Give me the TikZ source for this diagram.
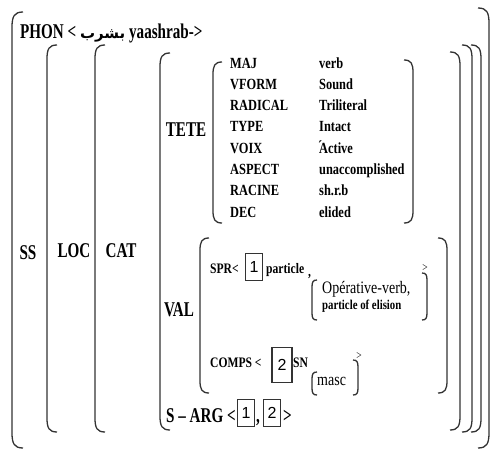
\documentclass[tikz,border=0pt]{standalone}
\usepackage{fontspec}
\setmainfont{Liberation Serif}[FakeStretch=0.8]
\newfontfamily\bigf{Liberation Serif}[FakeStretch=0.72]
\newfontfamily\boxfont{Liberation Sans}
\newfontfamily\arabicfont[Script=Arabic]{DejaVu Sans}
\TeXXeTstate=1
\definecolor{brkcol}{HTML}{333333}
\newcommand\mylb[4]{% x top bottom r
  \draw[brk] ({#1+#4},#2) .. controls ({#1+0.2*#4},#2) and (#1,{#2+0.4*#4}) .. (#1,{#2+1.4*#4})
    -- (#1,{#3-1.4*#4}) .. controls (#1,{#3-0.4*#4}) and ({#1+0.2*#4},#3) .. ({#1+#4},#3);}
\newcommand\myrb[4]{%
  \draw[brk] ({#1-#4},#2) .. controls ({#1-0.2*#4},#2) and (#1,{#2+0.4*#4}) .. (#1,{#2+1.4*#4})
    -- (#1,{#3-1.4*#4}) .. controls (#1,{#3-0.4*#4}) and ({#1-0.2*#4},#3) .. ({#1-#4},#3);}
\newcommand\tickA{\makebox[0pt][l]{\hspace{-1pt}\raisebox{2pt}{´}}Active}
\begin{document}
\begin{tikzpicture}[x=1pt,y=-1pt,
  brk/.style={draw=brkcol,line width=1.3pt},
  big/.style={font=\bigf\fontsize{21}{23}\selectfont\bfseries,inner sep=0},
  feat/.style={font=\fontsize{15.5}{17}\selectfont\bfseries,inner sep=0,anchor=base west},
  sml/.style={font=\fontsize{14.5}{16}\selectfont\bfseries,inner sep=0,anchor=base west},
  reg/.style={font=\fontsize{17.5}{19}\selectfont,inner sep=0,anchor=base west},
  numbox/.style={draw=brkcol,line width=1.2pt,font=\boxfont\fontsize{16}{16}\selectfont,minimum width=17pt,minimum height=27pt,inner sep=0}]
\useasboundingbox (0,0) rectangle (491,450);
\fill[white] (0,0) rectangle (491,450);
% brackets
\mylb{12}{12}{448}{11}  \myrb{489}{8}{448}{11}
\mylb{47}{45}{432}{10}  \myrb{481}{45}{432}{10}
\mylb{95}{45}{432}{10}  \myrb{472}{45}{432}{10}
\mylb{160}{53}{430}{10} \myrb{460}{52}{430}{10}
\mylb{213}{62}{223}{9}  \myrb{413}{60}{223}{9}
\mylb{200}{238}{393}{9} \myrb{447}{238}{393}{9}
\mylb{312}{280}{320}{5} \myrb{427}{273}{320}{5}
\mylb{312}{372}{395}{5} \myrb{358}{360}{395}{5}
% labels
\node[big,anchor=base west] (phon) at (20,38) {PHON < {\fontsize{15}{17}\arabicfont\beginR بشرب\endR} yaashrab->};
\node[big] (ss) at (28,253) {SS};
\node[big] (loc) at (74,251) {LOC};
\node[big] (cat) at (121,251) {CAT};
\node[big] (tete) at (186,130) {TETE};
\node[big] (val) at (179,310) {VAL};
% TETE features
\foreach \f/\v [count=\i] in {MAJ/verb,VFORM/Sound,RADICAL/Triliteral,TYPE/Intact,VOIX/\tickA,ASPECT/unaccomplished,RACINE/sh.r.b,DEC/elided}{
  \node[feat] (f\i) at (230,{68+21.3*(\i-1)}) {\f};
  \node[feat] (v\i) at (319,{68+21.3*(\i-1)}) {\v};
}
% SPR
\node[sml] (spr) at (210,273) {SPR<};
\node[numbox] (b1) at (254,267) {1};
\node[sml] (part) at (266,273) {particle};
\node[sml] (comma1) at (308,276) {,};
\node[font=\fontsize{12}{12}\selectfont,inner sep=0] (gt1) at (425,268) {>};
\node[reg] (oper) at (322,293) {Opérative-verb,};
\node[font=\fontsize{13.5}{15}\selectfont\bfseries,inner sep=0,anchor=base west] (elis) at (322,309) {particle of elision};
% COMPS
\node[sml] (comps) at (210,367) {COMPS <};
\node[numbox,minimum width=20pt,minimum height=35pt] (b2) at (282,365) {2};
\node[sml] (sn) at (293,367) {SN};
\node[font=\fontsize{12}{12}\selectfont,inner sep=0] (gt2) at (359,356) {>};
\node[reg] (masc) at (317,385) {masc};
% S-ARG
\node[big,anchor=base west] (sarg) at (166,422) {S – ARG <};
\node[numbox] (b3) at (246,413) {1};
\node[big,anchor=base west] (comma2) at (256,422) {,};
\node[numbox] (b4) at (272,413) {2};
\node[big,anchor=base west] (gt3) at (283,422) {>};
\end{tikzpicture}
\end{document}
